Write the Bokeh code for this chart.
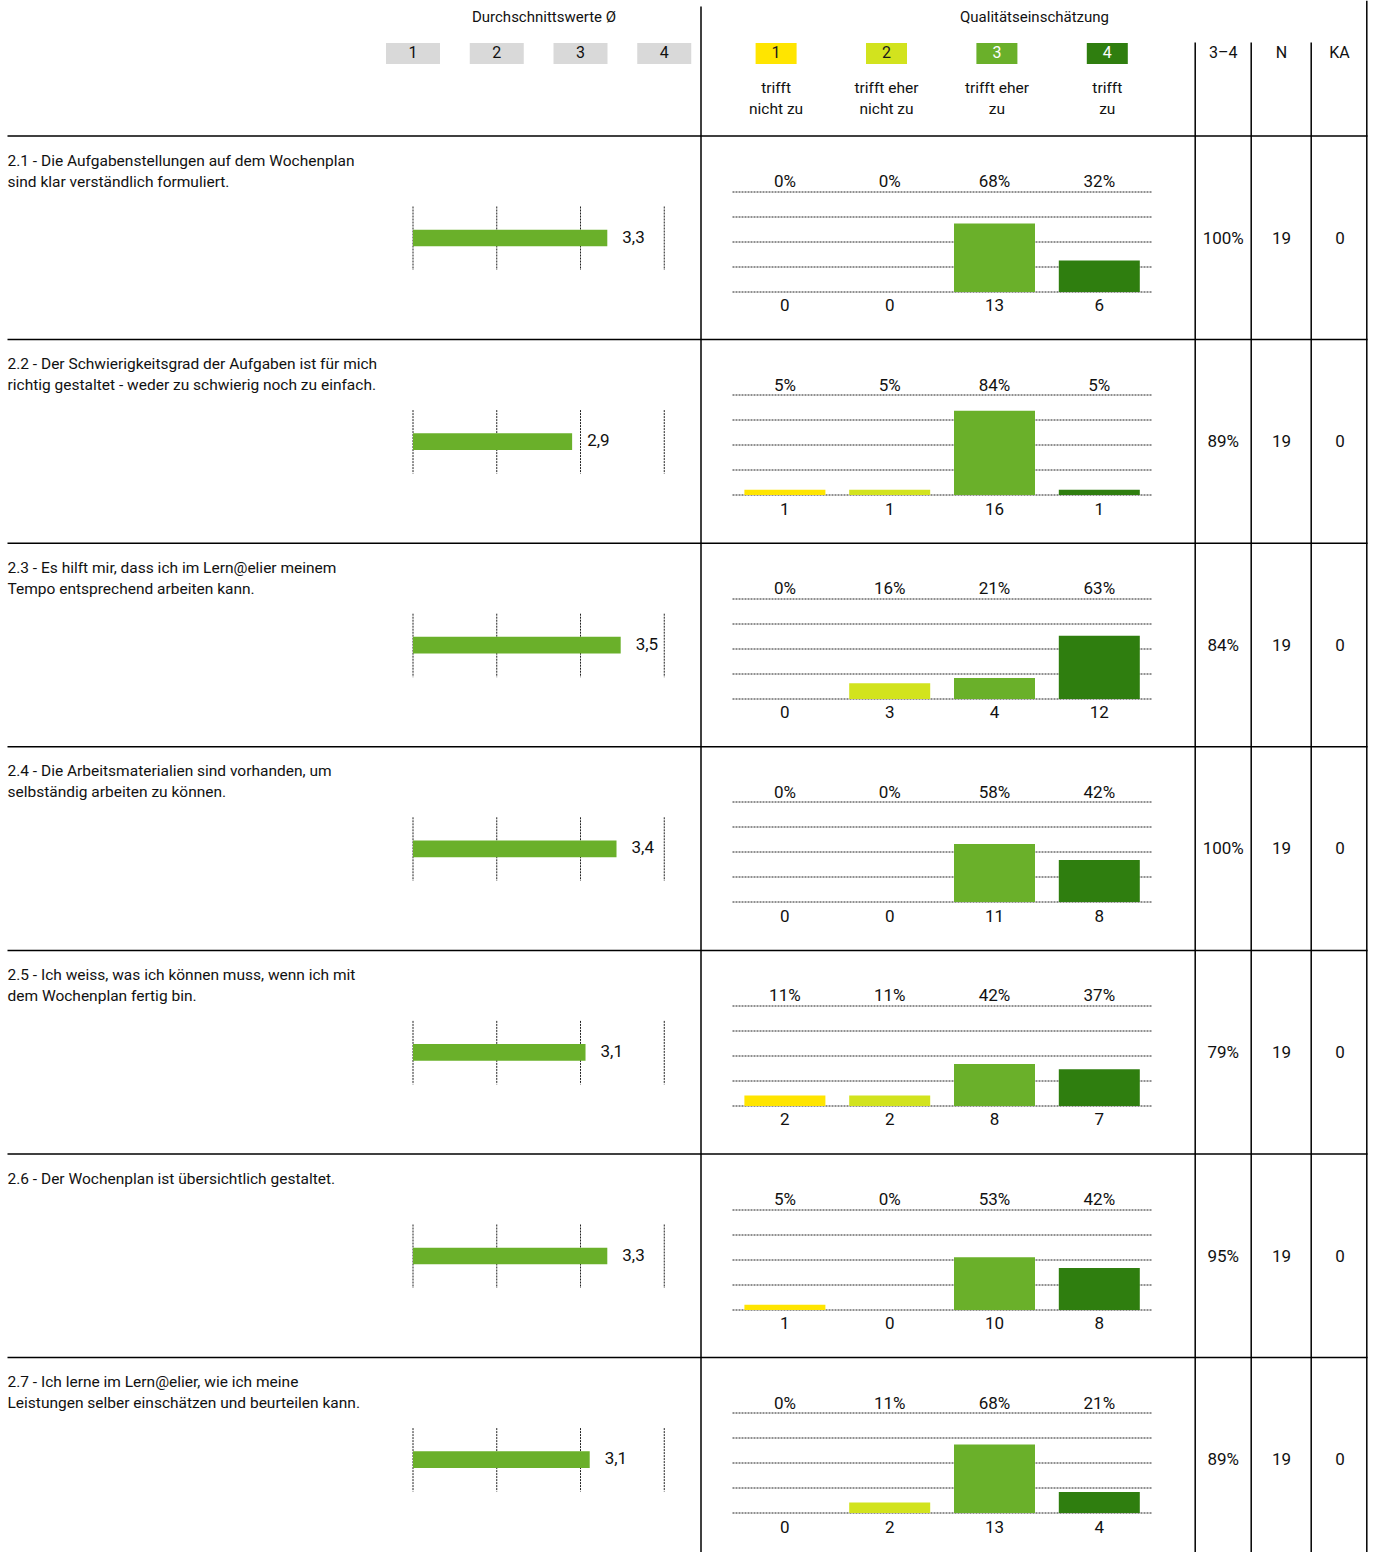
import math
from bokeh.plotting import figure
from bokeh.models import Range1d
from bokeh.embed import file_html
from bokeh.resources import INLINE
from bokeh.core.properties import value

# ---------------- data ----------------
question_line1 = [
    "2.1 - Die Aufgabenstellungen auf dem Wochenplan",
    "2.2 - Der Schwierigkeitsgrad der Aufgaben ist für mich",
    "2.3 - Es hilft mir, dass ich im Lern@elier meinem",
    "2.4 - Die Arbeitsmaterialien sind vorhanden, um",
    "2.5 - Ich weiss, was ich können muss, wenn ich mit",
    "2.6 - Der Wochenplan ist übersichtlich gestaltet.",
    "2.7 - Ich lerne im Lern@elier, wie ich meine",
]
question_line2 = [
    "sind klar verständlich formuliert.",
    "richtig gestaltet - weder zu schwierig noch zu einfach.",
    "Tempo entsprechend arbeiten kann.",
    "selbständig arbeiten zu können.",
    "dem Wochenplan fertig bin.",
    "",
    "Leistungen selber einschätzen und beurteilen kann.",
]
mean_values = [3.32, 2.90, 3.48, 3.43, 3.06, 3.32, 3.11]
mean_labels = ["3,3", "2,9", "3,5", "3,4", "3,1", "3,3", "3,1"]

count_1 = [0, 1, 0, 0, 2, 1, 0]
count_2 = [0, 1, 3, 0, 2, 0, 2]
count_3 = [13, 16, 4, 11, 8, 10, 13]
count_4 = [6, 1, 12, 8, 7, 8, 4]

pct_1 = ["0%", "5%", "0%", "0%", "11%", "5%", "0%"]
pct_2 = ["0%", "5%", "16%", "0%", "11%", "0%", "11%"]
pct_3 = ["68%", "84%", "21%", "58%", "42%", "53%", "68%"]
pct_4 = ["32%", "5%", "63%", "42%", "37%", "42%", "21%"]

share_3_4 = ["100%", "89%", "84%", "100%", "79%", "95%", "89%"]
n_answers = [19, 19, 19, 19, 19, 19, 19]
ka_answers = [0, 0, 0, 0, 0, 0, 0]

scale_ticks = [1, 2, 3, 4]
answer_line1 = ["trifft", "trifft eher", "trifft eher", "trifft"]
answer_line2 = ["nicht zu", "nicht zu", "zu", "zu"]
cat_colors = ["#FFE500", "#D2E31E", "#6AB02A", "#2F7E0F"]
cat_text_colors = ["#1a1a1a", "#1a1a1a", "#ffffff", "#ffffff"]
mean_color = "#6AB02A"

# ---------------- layout ----------------
W, H = 1372, 1552
X0, X1 = 0, W
Y0, Y1 = 0, H
ROW_TOP0, ROW_H = 135.5, 203.6
MEAN_X1, MEAN_STEP = 412.5, 83.75
CAT_X1, CAT_STEP = 784.4, 104.8
PCT_PX = 1.0
HDR_X1, HDR_STEP = 775.6, 110.4
FONT = value("Roboto")
TXT = "#111111"
GRID = "#222222"
DASH = "2 1"
DY = -1.5  # text vertical nudge

p = figure(width=W, height=H, x_range=Range1d(X0, X1), y_range=Range1d(Y1, Y0),
           output_backend="svg", toolbar_location=None,
           x_axis_location=None, y_axis_location=None, min_border=0)
p.grid.visible = False
p.outline_line_color = None
p.background_fill_color = "white"

p.extra_x_ranges = {
    "mean": Range1d(1 + (X0 - MEAN_X1) / MEAN_STEP, 1 + (X1 - MEAN_X1) / MEAN_STEP),
    "cat": Range1d(1 + (X0 - CAT_X1) / CAT_STEP, 1 + (X1 - CAT_X1) / CAT_STEP),
}

def txt(x, y, t, size=16, align="center", color=TXT, **kw):
    p.text(x=x, y=[v + DY for v in y], text=t, text_font=FONT, text_font_size=f"{size}px",
           text_align=align, text_baseline="middle", text_color=color, **kw)

# ---------------- header ----------------
txt([543.5], [18], ["Durchschnittswerte Ø"], size=15)
txt([1034], [18], ["Qualitätseinschätzung"], size=15)

# mean scale boxes
p.rect(x=scale_ticks, y=[53] * 4, width=54 / MEAN_STEP, height=21,
       fill_color="#D9D9D9", line_color=None, x_range_name="mean")
txt(scale_ticks, [53] * 4, [str(t) for t in scale_ticks], x_range_name="mean")

# quality legend boxes
hx = [HDR_X1 + i * HDR_STEP for i in range(4)]
p.rect(x=hx, y=[53] * 4, width=41, height=21, fill_color=cat_colors, line_color=None)
p.text(x=hx, y=[53 + DY] * 4, text=[str(t) for t in scale_ticks], text_font=FONT,
       text_font_size="16px", text_align="center", text_baseline="middle",
       text_color=cat_text_colors)
txt(hx, [89] * 4, answer_line1, size=15.5)
txt(hx, [110] * 4, answer_line2, size=15.5)

txt([1222.7, 1281, 1339], [53] * 3, ["3–4", "N", "KA"])

# ---------------- table lines ----------------
n_rows = len(question_line1)
row_tops = [ROW_TOP0 + i * ROW_H for i in range(n_rows)]
p.segment(x0=[7] * n_rows, x1=[1367] * n_rows, y0=row_tops, y1=row_tops,
          line_color="black", line_width=1.5)
p.segment(x0=[700.5, 1194.7, 1250.7, 1310.7, 1366.3],
          x1=[700.5, 1194.7, 1250.7, 1310.7, 1366.3],
          y0=[6, 42, 42, 42, 0], y1=[1556] * 5, line_color="black", line_width=1.5)

# ---------------- rows ----------------
counts = list(zip(count_1, count_2, count_3, count_4))
pcts = list(zip(pct_1, pct_2, pct_3, pct_4))
for i, top in enumerate(row_tops):
    # question text
    txt([7], [top + 26], [question_line1[i]], size=15.5, align="left")
    if question_line2[i]:
        txt([7], [top + 47], [question_line2[i]], size=15.5, align="left")

    # mean chart
    p.segment(x0=scale_ticks, x1=scale_ticks, y0=[top + 70.5] * 4, y1=[top + 134] * 4,
              line_color=GRID, line_width=1, line_dash=DASH, x_range_name="mean")
    p.hbar(y=[top + 102], left=[1], right=[mean_values[i]], height=16.7,
           fill_color=mean_color, line_color=None, x_range_name="mean")
    txt([mean_values[i]], [top + 102], [mean_labels[i]], size=17, align="left",
        x_offset=15, x_range_name="mean")

    # distribution chart (per-row vertical scale in percent)
    base = math.floor(top + 155.5) + 0.5
    rname = f"r{i}"
    p.extra_y_ranges[rname] = Range1d((base - Y1) / PCT_PX, (base - Y0) / PCT_PX)
    grid = [0, 25, 50, 75, 100]
    p.segment(x0=[0.5] * 5, x1=[4.5] * 5, y0=grid, y1=grid, line_color=GRID,
              line_width=1, line_dash=DASH, x_range_name="cat", y_range_name=rname)
    n = n_answers[i]
    tops = [c / n * 100 for c in counts[i]]
    p.vbar(x=scale_ticks, top=tops, bottom=0, width=81 / CAT_STEP,
           fill_color=cat_colors, line_color=None,
           x_range_name="cat", y_range_name=rname)
    txt(scale_ticks, [top + 46.5] * 4, list(pcts[i]), size=17, x_range_name="cat")
    txt(scale_ticks, [top + 170.5] * 4, [str(c) for c in counts[i]], size=17,
        x_range_name="cat")

    # summary columns
    txt([1222.7, 1281, 1339.5], [top + 103] * 3,
        [share_3_4[i], str(n_answers[i]), str(ka_answers[i])], size=17)

open("out.html", "w").write(file_html(p, INLINE))
